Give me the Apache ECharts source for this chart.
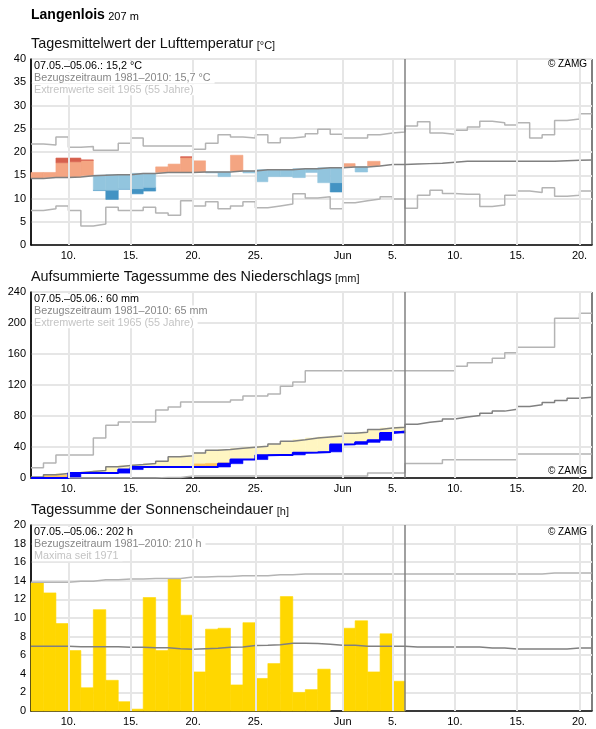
<!DOCTYPE html>
<html>
<head>
<meta charset="utf-8">
<script src="https://cdn.jsdelivr.net/npm/echarts@6/dist/echarts.min.js"></script>
<style>
  body { margin: 0; background: #fff; }
  #main { width: 596px; height: 729px; }
</style>
</head>
<body>
<div id="main"></div>
<script>
// Tag 0 = 07.05., Achse laeuft 45 Tage bis 21.06.
var tickPos = [3, 8, 13, 18, 25, 29, 34, 39, 44];
var tickLabels = ['10.', '15.', '20.', '25.', 'Jun', '5.', '10.', '15.', '20.'];
var todayPos = 30;

// Lufttemperatur [°C]
var tempMean = [14.3, 14.5, 14.5, 14.6, 14.9, 15.0, 15.1, 15.1, 15.4, 15.4,
                15.6, 15.6, 15.6, 15.7, 15.7, 15.7, 15.9, 15.9, 16.2, 16.2,
                16.2, 16.4, 16.4, 16.6, 16.6, 16.8, 16.8, 17.0, 17.3, 17.3,
                17.4, 17.5, 17.6, 17.8, 18.0, 18.0, 18.0, 18.0, 18.0, 18.0,
                18.0, 18.0, 18.1, 18.2, 18.3];
var tempDay = [15.6, 15.6, 18.7, 18.7, 18.3, 11.7, 9.8, 12.0, 11.0, 11.6,
               16.8, 17.4, 19.0, 18.1, 15.5, 14.7, 19.3, 15.5, 13.6, 14.7,
               14.7, 14.5, 15.6, 13.4, 11.4, 17.5, 15.7, 18.0, 17.3, 17.3];
var tempHi = [null, null, 17.7, 17.9, 18.2, null, null, null, null, null,
              null, null, 18.8, null, null, null, null, null, null, null,
              null, null, null, null, null, null, null, null, null, null];
var tempLo = [null, null, null, null, null, 11.8, 11.8, 12.1, 12.1, 12.4,
              null, null, null, null, null, null, null, null, null, null,
              null, null, null, null, 13.4, null, null, null, null, null];
var tempMax = [21.7, 21.5, 23.2, 21.0, 21.2, 20.4, 20.4, 21.9, 23.0, 21.3,
               21.3, 21.3, 21.3, 20.6, 21.9, 23.7, 23.2, 23.0, 23.7, 22.0,
               23.0, 23.3, 23.9, 24.9, 23.8, 23.0, 23.0, 23.7, 24.1, 24.3,
               25.6, 26.5, 24.1, 23.8, 24.7, 25.4, 26.6, 26.3, 25.8, 26.3,
               23.0, 23.7, 26.8, 27.1, 28.2];
var tempMin = [7.4, 7.8, 8.4, 7.4, 4.1, 4.5, 8.1, 7.4, 7.4, 8.1,
               6.9, 6.4, 9.5, 8.4, 9.3, 7.8, 8.4, 9.3, 8.0, 8.4,
               8.8, 11.0, 10.1, 10.4, 7.8, 9.1, 9.5, 9.9, 10.4, 9.9,
               7.9, 10.7, 11.8, 11.1, 10.9, 10.9, 8.3, 8.6, 10.7, 11.6,
               11.3, 12.3, 10.5, 10.7, 11.6];

// Niederschlag kumuliert [mm]
var precMean = [1.3, 4.1, 5.8, 6.7, 8.4, 9.7, 14.5, 16.2, 17.4, 18.7,
                21.7, 27.3, 28.6, 32.4, 35.9, 36.7, 38.4, 39.7, 41.0, 44.0,
                47.4, 49.5, 51.7, 53.0, 54.3, 57.7, 59.0, 62.5, 64.6, 65.5,
                69.3, 71.8, 73.5, 76.1, 78.6, 80.7, 83.7, 86.3, 88.8, 92.3,
                94.4, 97.4, 100.0, 103.0, 104.3];
var precSum = [0, 0, 0, 6.3, 6.3, 6.3, 6.3, 10.9, 14.2, 14.2,
               14.2, 14.2, 14.2, 14.2, 14.2, 18.5, 23.8, 23.8, 29.2, 29.8,
               29.8, 32.6, 32.8, 33.7, 43.2, 43.4, 46.0, 48.6, 58.0, 60.0];
var precDry = [null, 3.5, 3.5, null, null, null, null, null, null, null,
               null, null, null, 18.2, 18.8, 19.5, null, null, null, null,
               null, null, null, null, null, null, null, null, null, null];
var precMax = [13.1, 19.5, 29.8, 29.8, 29.8, 51.5, 68.0, 72.3, 72.3, 72.3,
               87.8, 91.7, 98.1, 98.1, 98.1, 98.1, 100.7, 105.8, 105.8, 108.4,
               118.5, 123.8, 138.3, 138.3, 138.3, 138.3, 138.3, 138.3, 138.3, 138.3,
               138.3, 138.3, 138.3, 138.3, 144.3, 148.7, 148.7, 154.5, 161.5, 168.6,
               168.6, 168.6, 206.0, 206.0, 212.6];
var precMin = [0, 0, 0, 0, 0, 0, 0, 0, 0, 0,
               0.8, 0.8, 2.5, 2.5, 2.5, 2.5, 2.5, 2.5, 2.5, 2.5,
               2.5, 2.5, 2.5, 2.5, 2.5, 2.5, 2.5, 6.5, 6.5, 6.5,
               18.8, 18.8, 18.8, 23.5, 23.5, 23.5, 23.5, 23.5, 23.5, 31.0,
               31.0, 31.0, 31.0, 31.0, 31.0];

// Sonnenscheindauer [h]
var sunHours = [13.8, 12.7, 9.4, 6.5, 2.5, 10.9, 3.3, 1.0, 0.2, 12.2,
                6.5, 14.2, 10.3, 4.2, 8.8, 8.9, 2.8, 9.5, 3.5, 5.1,
                12.3, 2.0, 2.3, 4.5, 0, 8.9, 9.7, 4.2, 8.3, 3.2];
var sunMean = [6.95, 6.95, 6.95, 6.92, 6.92, 6.92, 6.92, 6.85, 6.85, 6.8,
               6.8, 6.7, 6.63, 6.7, 6.74, 6.85, 6.88, 7.04, 7.06, 7.13,
               7.28, 7.28, 7.25, 7.17, 7.06, 7.06, 6.95, 6.95, 6.95, 6.95,
               6.88, 6.88, 6.88, 6.88, 6.88, 6.88, 6.78, 6.78, 6.67, 6.67,
               6.67, 6.67, 6.67, 6.78, 6.78];
var sunMax = [13.85, 13.85, 13.85, 13.95, 13.95, 14.1, 14.1, 14.2, 14.2, 14.25,
              14.25, 14.25, 14.4, 14.4, 14.45, 14.45, 14.55, 14.55, 14.55, 14.65,
              14.65, 14.73, 14.73, 14.73, 14.73, 14.73, 14.73, 14.73, 14.73, 14.73,
              14.73, 14.73, 14.73, 14.73, 14.73, 14.73, 14.73, 14.73, 14.73, 14.73,
              14.73, 14.84, 14.84, 14.84, 14.84];

var FONT = '"Liberation Sans", Arial, sans-serif';
var gridTops = [59, 292, 525];
var gridH = 186;

function steps(arr) {
    var out = [];
    for (var i = 0; i < arr.length; i++) out.push([i, arr[i]]);
    out.push([arr.length, arr[arr.length - 1]]);
    return out;
}
function stepLine(arr, gi, color, width) {
    return {
        type: 'line', xAxisIndex: gi, yAxisIndex: gi, step: 'end',
        data: steps(arr), symbol: 'none', silent: true, z: 3,
        lineStyle: {color: color, width: width}
    };
}
// Rechtecke [tagAnfang, tagEnde, unten, oben]
function rects(items, gi, color) {
    return {
        type: 'custom', xAxisIndex: gi, yAxisIndex: gi, silent: true, z: 2,
        data: items,
        encode: {x: [0, 1], y: [2, 3]},
        renderItem: function (params, api) {
            var p0 = api.coord([api.value(0), api.value(2)]);
            var p1 = api.coord([api.value(1), api.value(3)]);
            return {
                type: 'rect',
                shape: {x: p0[0], y: p1[1], width: p1[0] - p0[0], height: p0[1] - p1[1]},
                style: {fill: color, stroke: color, lineWidth: 0.6}
            };
        }
    };
}
function gridLines(gi) {
    return {
        type: 'line', xAxisIndex: gi, yAxisIndex: gi, data: [], z: 1,
        markLine: {
            silent: true, symbol: ['none', 'none'], animation: false,
            label: {show: false},
            lineStyle: {color: '#e6e6e6', width: 2, type: 'solid'},
            data: tickPos.map(function (p) { return {xAxis: p}; })
        }
    };
}
function todayLine(gi) {
    return {
        type: 'line', xAxisIndex: gi, yAxisIndex: gi, data: [], z: 5,
        markLine: {
            silent: true, symbol: ['none', 'none'], animation: false,
            label: {show: false},
            lineStyle: {color: '#808080', width: 1.5, type: 'solid'},
            data: [{xAxis: todayPos}]
        }
    };
}
function push(list, i, lo, hi) {
    if (hi - lo > 0.001) list.push([i, i + 1, lo, hi]);
}

// Temperatur: Flaechen zwischen Mittel und Tageswert
var tDarkBlue = [], tBlue = [], tOrange = [], tRed = [];
tempDay.forEach(function (a, i) {
    var m = tempMean[i], hi = tempHi[i], lo = tempLo[i];
    if (a >= m) {
        if (hi != null && a > hi) { push(tOrange, i, m, hi); push(tRed, i, hi, a); }
        else push(tOrange, i, m, a);
    } else {
        if (lo != null && a < lo) { push(tDarkBlue, i, a, lo); push(tBlue, i, lo, m); }
        else push(tBlue, i, a, m);
    }
});

// Niederschlag: Tageszuwachs und Defizit zum Mittel
var pInc = [], pDry = [], pYellow = [];
precSum.forEach(function (s, i) {
    var prev = i > 0 ? precSum[i - 1] : 0;
    var d = precDry[i] != null ? precDry[i] : s;
    push(pInc, i, prev, s);
    push(pDry, i, s, d);
    push(pYellow, i, d, precMean[i]);
});

var sunBars = [];
sunHours.forEach(function (v, i) { push(sunBars, i, 0, v); });

var grids = [], xAxes = [], yAxes = [];
var yCfg = [[0, 40, 5], [0, 240, 40], [0, 20, 2]];
for (var g = 0; g < 3; g++) {
    grids.push({left: 31, right: 4, top: gridTops[g], height: gridH,
        show: true, borderColor: '#000', borderWidth: 1, backgroundColor: '#fff'});
    xAxes.push({
        type: 'value', gridIndex: g, min: 0, max: 45, interval: 1,
        axisLine: {lineStyle: {color: '#000', width: 1.5}},
        axisTick: {show: false},
        splitLine: {show: false},
        axisLabel: {
            margin: 5, color: '#000', fontSize: 11, fontFamily: FONT,
            formatter: function (v) {
                var k = tickPos.indexOf(v);
                return k >= 0 ? tickLabels[k] : '';
            }
        }
    });
    yAxes.push({
        type: 'value', gridIndex: g, min: yCfg[g][0], max: yCfg[g][1], interval: yCfg[g][2],
        axisLine: {show: true, lineStyle: {color: '#000', width: 1.5}},
        axisTick: {show: false},
        splitLine: {lineStyle: {color: '#e6e6e6', width: 2}},
        axisLabel: {margin: 5, color: '#000', fontSize: 11, fontFamily: FONT}
    });
}

var series = [
    gridLines(0), gridLines(1), gridLines(2),
    // Temperatur
    rects(tDarkBlue, 0, '#4393c3'),
    rects(tBlue, 0, '#92c5de'),
    rects(tOrange, 0, '#f4a582'),
    rects(tRed, 0, '#d6604d'),
    stepLine(tempMax, 0, '#b4b4b4', 1.5),
    stepLine(tempMin, 0, '#b4b4b4', 1.5),
    stepLine(tempMean, 0, '#808080', 1.5),
    // Niederschlag
    rects(pYellow, 1, '#fff6c2'),
    rects(pDry, 1, '#fdc25a'),
    rects(pInc, 1, '#0000ff'),
    stepLine(precMax, 1, '#b4b4b4', 1.5),
    stepLine(precMin, 1, '#b4b4b4', 1.5),
    stepLine(precMean, 1, '#808080', 1.5),
    stepLine(precSum, 1, '#0000ff', 2),
    // Sonne
    rects(sunBars, 2, '#ffd700'),
    stepLine(sunMax, 2, '#b4b4b4', 1.5),
    stepLine(sunMean, 2, '#808080', 1.5),
    todayLine(0), todayLine(1), todayLine(2)
];

var titles = [
    ['Tagesmittelwert der Lufttemperatur', '[°C]'],
    ['Aufsummierte Tagessumme des Niederschlags', '[mm]'],
    ['Tagessumme der Sonnenscheindauer', '[h]']
];
var infoLines = [
    ['07.05.–05.06.: 15,2 °C', 'Bezugszeitraum 1981–2010: 15,7 °C', 'Extremwerte seit 1965 (55 Jahre)'],
    ['07.05.–05.06.: 60 mm', 'Bezugszeitraum 1981–2010: 65 mm', 'Extremwerte seit 1965 (55 Jahre)'],
    ['07.05.–05.06.: 202 h', 'Bezugszeitraum 1981–2010: 210 h', 'Maxima seit 1971']
];
var infoColors = ['#000', '#878787', '#c4c4c4'];
var zamgY = [65, 472, 533];

var graphic = [{
    type: 'text', left: 31, top: 8,
    style: {
        text: '{a|Langenlois} {b|207 m}',
        rich: {
            a: {font: 'bold 14px ' + FONT, fill: '#000', verticalAlign: 'bottom'},
            b: {font: '11px ' + FONT, fill: '#000', verticalAlign: 'bottom'}
        }
    }
}];
for (var k = 0; k < 3; k++) {
    graphic.push({
        type: 'text', left: 31, top: gridTops[k] - 22,
        style: {
            text: '{a|' + titles[k][0] + '} {b|' + titles[k][1] + '}',
            rich: {
                a: {font: '14.4px ' + FONT, fill: '#111', verticalAlign: 'bottom'},
                b: {font: '11px ' + FONT, fill: '#111', verticalAlign: 'bottom'}
            }
        }
    });
    for (var j = 0; j < 3; j++) {
        graphic.push({
            type: 'text', left: 32, top: gridTops[k] + 2 + j * 11.6, z: 100,
            style: {
                text: infoLines[k][j], font: '10.8px ' + FONT, fill: infoColors[j],
                backgroundColor: '#fff', padding: [0, 4, 0, 2]
            }
        });
    }
    graphic.push({
        type: 'text', right: 9, top: zamgY[k] - 6, z: 100,
        style: {text: '© ZAMG', font: '10px ' + FONT, fill: '#000'}
    });
}

var chart = echarts.init(document.getElementById('main'));
chart.setOption({
    animation: false,
    backgroundColor: '#fff',
    grid: grids,
    xAxis: xAxes,
    yAxis: yAxes,
    series: series,
    graphic: graphic
});
</script>
</body>
</html>
